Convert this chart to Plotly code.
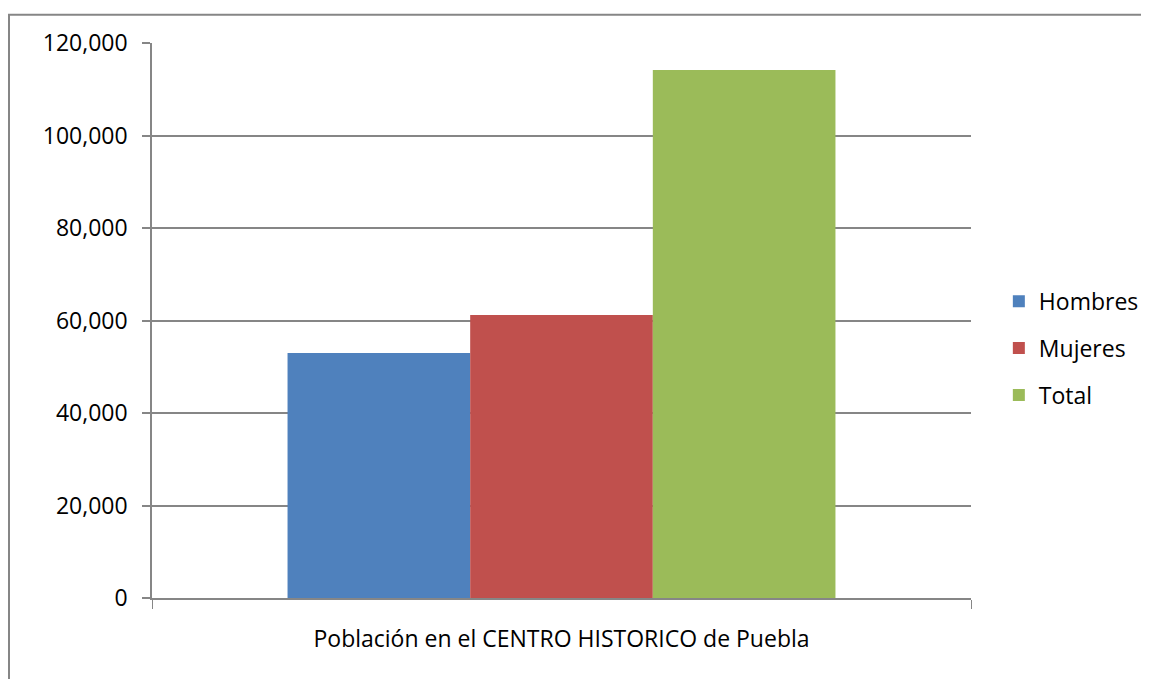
import plotly.graph_objects as go

# Datos
categoria = ["Población en el CENTRO HISTORICO de Puebla"]
series = ["Hombres", "Mujeres", "Total"]
hombres = [52950]
mujeres = [61200]
total = [114150]
colores = ["#4F81BD", "#C0504D", "#9BBB59"]

y_ticks = [0, 20000, 40000, 60000, 80000, 100000, 120000]

FONT = "Open Sans"
GRID = "#868686"

# la página deja 8 px de margen: la figura se dibuja desde (8, 8)
fig = go.Figure()
for i, (nombre, valores) in enumerate(zip(series, [hombres, mujeres, total])):
    fig.add_trace(go.Bar(
        x=categoria,
        y=valores,
        name=nombre,
        marker=dict(color=colores[i], line=dict(width=0)),
        legendgroup=nombre,
    ))

fig.update_layout(
    width=1141,
    height=671,
    margin=dict(l=144, r=178, t=35, b=81, autoexpand=False),
    paper_bgcolor="white",
    plot_bgcolor="white",
    font=dict(family=FONT, size=23, color="#000000"),
    barmode="group",
    bargap=0.331,
    bargroupgap=0,
    showlegend=True,
    legend=dict(
        x=1.034, y=0.45, xanchor="left", yanchor="middle",
        font=dict(family=FONT, size=23, color="#000000"),
        tracegroupgap=14,
        itemwidth=30,
        bgcolor="rgba(0,0,0,0)",
    ),
    xaxis=dict(
        type="category",
        tickson="boundaries",
        ticks="outside",
        ticklen=9,
        tickcolor=GRID,
        tickwidth=1,
        showline=True,
        linecolor=GRID,
        linewidth=1.5,
        showgrid=False,
        ticklabelstandoff=20,
        tickfont=dict(family=FONT, size=23),
    ),
    yaxis=dict(
        range=[0, 120000],
        tickvals=y_ticks,
        tickformat=",",
        ticks="outside",
        ticklen=8,
        tickcolor=GRID,
        tickwidth=1.5,
        showline=True,
        linecolor=GRID,
        linewidth=1.5,
        showgrid=True,
        gridcolor=GRID,
        gridwidth=1.5,
        zeroline=False,
        ticklabelstandoff=10,
        tickfont=dict(family=FONT, size=23),
    ),
    shapes=[dict(
        type="rect", xref="paper", yref="paper",
        x0=(9 - 152) / 819, x1=(1180 - 152) / 819,
        y0=(598 - 700) / 555.6, y1=(598 - 14) / 555.6,
        line=dict(color=GRID, width=2), fillcolor="rgba(0,0,0,0)",
        layer="below",
    )],
)

fig.write_html("out.html")
